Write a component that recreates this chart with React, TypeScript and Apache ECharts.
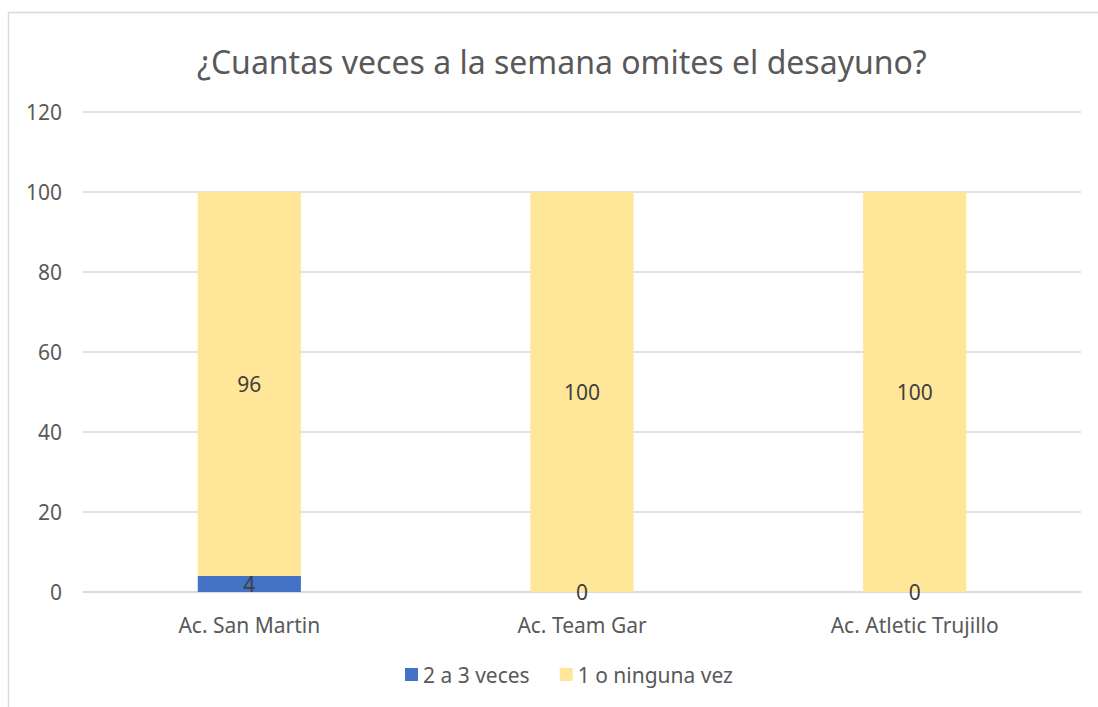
import React, { useEffect, useRef } from "react";
import * as echarts from "echarts";

const categories = ["Ac. San Martin", "Ac. Team Gar", "Ac. Atletic Trujillo"];
const seriesNames = ["2 a 3 veces", "1 o ninguna vez"];
const twoToThree = [4, 0, 0];
const oneOrNone = [96, 100, 100];
const yTicks = { min: 0, max: 120, interval: 20 };

const FONT = "'Noto Sans', 'Open Sans', sans-serif";

export default function App() {
  const ref = useRef<HTMLDivElement>(null);
  useEffect(() => {
    if (!ref.current) return;
    const chart = echarts.init(ref.current, null, { renderer: "svg" });
    const label = {
      show: true,
      position: "inside",
      color: "#404040",
      fontSize: 21,
      fontFamily: FONT,
    };
    chart.setOption({
      animation: false,
      backgroundColor: "#ffffff",
      textStyle: { fontFamily: FONT },
      graphic: [
        {
          type: "rect",
          shape: { x: 8.5, y: 12.5, width: 1100, height: 710 },
          style: { fill: "none", stroke: "#d9d9d9", lineWidth: 1.5 },
          silent: true,
        },
      ],
      title: {
        text: "¿Cuantas veces a la semana omites el desayuno?",
        left: 192,
        top: 40,
        textStyle: { color: "#595959", fontSize: 32, fontWeight: "normal", fontFamily: FONT },
      },
      legend: {
        bottom: 17,
        left: 400,
        itemWidth: 13,
        itemHeight: 13,
        itemGap: 30,
        icon: "rect",
        textStyle: { color: "#595959", fontSize: 21, fontFamily: FONT },
        data: seriesNames,
      },
      grid: { left: 83, right: 17, top: 112, bottom: 115 },
      xAxis: {
        type: "category",
        data: categories,
        axisLine: { lineStyle: { color: "#d9d9d9", width: 1.5 } },
        axisTick: { show: false },
        axisLabel: { color: "#595959", fontSize: 21, margin: 22, fontFamily: FONT },
      },
      yAxis: {
        type: "value",
        min: yTicks.min,
        max: yTicks.max,
        interval: yTicks.interval,
        axisLine: { show: false },
        axisTick: { show: false },
        splitLine: { lineStyle: { color: "#d9d9d9", width: 1.5 } },
        axisLabel: { color: "#595959", fontSize: 21, margin: 21, fontFamily: FONT },
      },
      series: [
        {
          name: seriesNames[0],
          type: "bar",
          stack: "total",
          data: twoToThree,
          barWidth: "31%",
          itemStyle: { color: "#4472C4" },
          label,
        },
        {
          name: seriesNames[1],
          type: "bar",
          stack: "total",
          data: oneOrNone,
          barWidth: "31%",
          itemStyle: { color: "#FFE699" },
          label,
        },
      ],
    });
    return () => chart.dispose();
  }, []);
  return (
    <div
      ref={ref}
      style={{ position: "fixed", left: 0, top: 0, width: 1098, height: 707 }}
    />
  );
}
